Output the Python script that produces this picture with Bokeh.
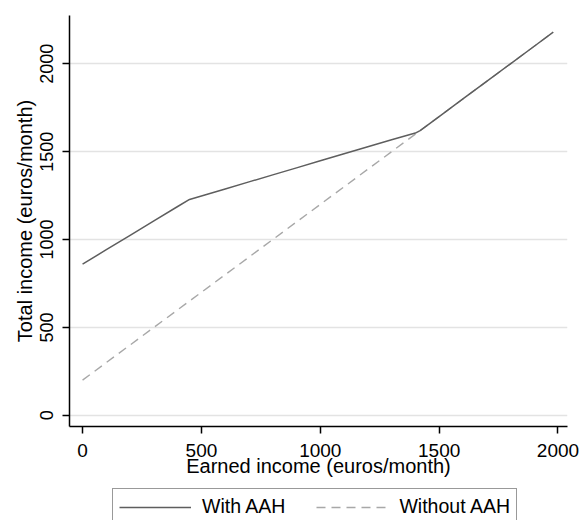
from bokeh.plotting import figure
from bokeh.models import Range1d, FixedTicker, Legend, LegendItem
from bokeh.layouts import column
from bokeh.embed import file_html
from bokeh.resources import INLINE

# ---- data ----
earned = [0, 100, 200, 300, 400, 450, 500, 600, 700, 800, 900, 1000, 1100,
          1200, 1300, 1400, 1420, 1500, 1600, 1700, 1800, 1900, 1980]
with_aah = [860, 942, 1024, 1106, 1188, 1228, 1248, 1288, 1328, 1368, 1408,
            1448, 1488, 1528, 1568, 1606, 1620, 1700, 1800, 1900, 2000, 2100, 2180]
without_aah = [200, 300, 400, 500, 600, 650, 700, 800, 900, 1000, 1100, 1200,
               1300, 1400, 1500, 1600, 1620, 1700, 1800, 1900, 2000, 2100, 2180]
x_ticks = [0, 500, 1000, 1500, 2000]
y_ticks = [0, 500, 1000, 1500, 2000]
series_labels = ["With AAH", "Without AAH"]
x_title = "Earned income (euros/month)"
y_title = "Total income (euros/month)"

FONT = "Liberation Sans"
WITH_STYLE = dict(line_color="#5e5e5e", line_width=1.5)
WITHOUT_STYLE = dict(line_color="#a8a8a8", line_width=1.4, line_dash="9 6")

p = figure(width=581, height=488,
           x_range=Range1d(-55, 2040), y_range=Range1d(-64, 2275),
           output_backend="svg", toolbar_location=None,
           min_border_left=69, min_border_right=14,
           min_border_top=15, min_border_bottom=62)

p.background_fill_color = "white"
p.border_fill_color = "white"
p.outline_line_color = None

# grid
p.xgrid.visible = False
p.ygrid.grid_line_color = "#e3e3e3"
p.ygrid.grid_line_width = 1.5

# axes
for ax in (p.xaxis[0], p.yaxis[0]):
    ax.axis_line_color = "black"
    ax.axis_line_width = 1.5
    ax.major_tick_line_color = "black"
    ax.major_tick_line_width = 1.5
    ax.major_tick_out = 7
    ax.major_tick_in = 0
    ax.minor_tick_line_color = None
    ax.major_label_text_font = FONT
    ax.major_label_text_color = "black"
    ax.axis_label_text_font = FONT
    ax.axis_label_text_font_style = "normal"
    ax.axis_label_text_color = "black"
    ax.axis_label_text_font_size = "20px"

p.xaxis.ticker = FixedTicker(ticks=x_ticks)
p.yaxis.ticker = FixedTicker(ticks=y_ticks)
p.xaxis.major_label_text_font_size = "19px"
p.yaxis.major_label_text_font_size = "18px"
p.yaxis.major_label_orientation = "vertical"
p.xaxis.major_label_standoff = 10
p.yaxis.major_label_standoff = 9
p.xaxis.axis_label = x_title
p.yaxis.axis_label = y_title
p.xaxis.axis_label_standoff = -5
p.yaxis.axis_label_standoff = 2

# lines
p.line(earned, without_aah, **WITHOUT_STYLE)
p.line(earned, with_aah, **WITH_STYLE)

# ---- legend strip below the chart ----
leg = figure(width=581, height=32, x_axis_location=None, y_axis_location=None,
             x_range=Range1d(0, 1), y_range=Range1d(0, 1),
             output_backend="svg", toolbar_location=None, min_border=0)
leg.grid.visible = False
leg.outline_line_color = None
leg.background_fill_color = "white"
leg.border_fill_color = "white"
# renderers used only for the legend keys (outside the strip's ranges)
k_with = leg.line(earned, with_aah, **WITH_STYLE)
k_without = leg.line(earned, without_aah, **WITHOUT_STYLE)

legend = Legend(items=[LegendItem(label=series_labels[0], renderers=[k_with]),
                       LegendItem(label=series_labels[1], renderers=[k_without])],
                orientation="horizontal", location=(43, -5))
legend.border_line_color = "#333333"
legend.border_line_width = 1.5
legend.background_fill_color = "white"
legend.background_fill_alpha = 1
legend.padding = 6
legend.spacing = 31
legend.margin = 0
legend.glyph_width = 72
legend.glyph_height = 20
legend.label_standoff = 11
legend.label_text_font = FONT
legend.label_text_font_size = "19.5px"
legend.label_text_color = "black"
leg.add_layout(legend)

page = column(p, leg, spacing=0)
open("out.html", "w").write(file_html(page, INLINE))
